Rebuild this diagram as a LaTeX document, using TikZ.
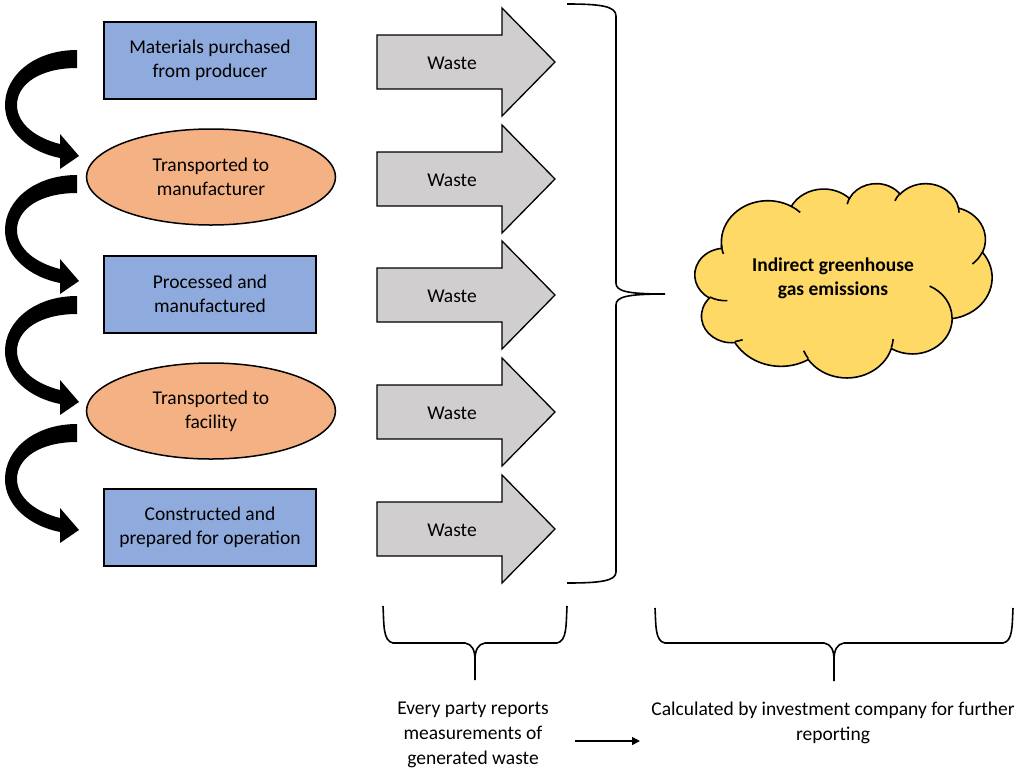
\documentclass[tikz,border=0pt]{standalone}
\usepackage{fontspec}
\setmainfont{Carlito}
\usetikzlibrary{shapes.geometric,arrows.meta}

\definecolor{stepblue}{HTML}{8FAADC}
\definecolor{transorange}{HTML}{F4B183}
\definecolor{wastegray}{HTML}{D0CECE}
\definecolor{cloudyellow}{HTML}{FFD966}

% Cloud outline built from elliptic arcs given with "visual" angles;
% each is converted once into TikZ's parametric angles and stored as a style.
\newcommand\cloudarcdef[5]{%
  \pgfmathsetmacro\cpa{atan2(sin(#4)/#3, cos(#4)/#2)}%
  \pgfmathsetmacro\cpb{atan2(sin(#4+#5)/#3, cos(#4+#5)/#2)}%
  \pgfmathsetmacro\cpb{\cpb+360*(\cpb<\cpa)}%
  \edef\cpdo{\noexpand\tikzset{#1/.style={start angle=\cpa, end angle=\cpb, x radius=#2, y radius=#3}}}%
  \cpdo}
% outline
\cloudarcdef{cla}{67.53}{91.90}{-190.4875}{123.7805}
\cloudarcdef{clb}{53.33}{72.67}{-144.1024}{89.9452}
\cloudarcdef{clc}{43.65}{59.45}{-145.8079}{99.7230}
\cloudarcdef{cld}{48.57}{65.95}{-130.9861}{117.2417}
\cloudarcdef{cle}{53.33}{72.73}{-78.7089}{109.0269}
\cloudarcdef{clf}{67.75}{92.20}{-46.2673}{130.2690}
\cloudarcdef{clg}{57.85}{78.67}{0.6250}{114.0333}
\cloudarcdef{clh}{67.52}{92.15}{22.4516}{115.1726}
\cloudarcdef{cli}{77.20}{105.43}{66.2426}{75.7110}
\cloudarcdef{clj}{43.60}{59.18}{-274.9421}{146.7356}
\cloudarcdef{clk}{43.45}{59.45}{-246.8285}{152.5189}
% inner puff lines
\cloudarcdef{cia}{43.45}{59.45}{86.7420}{26.4295}
\cloudarcdef{cib}{43.60}{59.18}{73.6105}{11.4475}
\cloudarcdef{cic}{67.52}{92.15}{137.6242}{14.0811}
\cloudarcdef{cid}{67.52}{92.15}{6.4533}{15.9984}
\cloudarcdef{cie}{57.85}{78.67}{-70.2924}{70.9174}
\cloudarcdef{cif}{53.33}{72.73}{30.3180}{27.7515}
\cloudarcdef{cig}{48.57}{65.95}{-13.7443}{14.8571}
\cloudarcdef{cih}{48.57}{65.95}{-149.1815}{18.1839}
\cloudarcdef{cii}{43.65}{59.45}{-163.4943}{17.6931}
\cloudarcdef{cij}{67.53}{91.90}{-66.7070}{12.3194}
\cloudarcdef{cik}{67.53}{91.90}{155.6472}{16.8105}

\tikzset{
  txt/.style={font=\fontsize{19.5}{24}\selectfont, text=black, align=center, inner sep=0},
  stepbox/.style={txt, draw, line width=2, fill=stepblue, minimum width=212, minimum height=77},
  transell/.style={txt, ellipse, draw, line width=1.5, fill=transorange, minimum width=249, minimum height=96},
  wastebody/.style={draw, line width=1.3, fill=wastegray, line join=miter},
  brace/.style={draw, line width=1.6},
  bendarrow/.pic={
    \fill (77,0) .. controls (35,0) and (5,25) .. (5,55)
      .. controls (5,82) and (30,102) .. (60,108)
      -- (60,119) -- (79,106) -- (60,84) -- (60,94)
      .. controls (36,88) and (17,74) .. (17,55)
      .. controls (17,34) and (40,18) .. (77,18) -- cycle;
  },
  wastearrow/.pic={
    \draw[wastebody] (0,-27) -- (125,-27) -- (125,-54) -- (178,0)
      -- (125,54) -- (125,27) -- (0,27) -- cycle;
  },
}

\begin{document}
\begin{tikzpicture}[x=1pt, y=-1pt]
\useasboundingbox (0,0) rectangle (1022,769);

% life-cycle stages
\node[stepbox] (s1) at (210,60.5) {Materials purchased\\from producer};
\node[transell] (s2) at (211,177) {Transported to\\manufacturer};
\node[stepbox] (s3) at (210,294) {Processed and\\manufactured};
\node[transell] (s4) at (211,411) {Transported to\\facility};
\node[stepbox] (s5) at (210,527) {Constructed and\\prepared for operation};

% curved block arrows between stages
\pic at (0,50) {bendarrow};
\pic at (0,175) {bendarrow};
\pic at (0,296) {bendarrow};
\pic at (0,424) {bendarrow};

% waste arrows
\foreach \y [count=\i] in {62,179,295,412,529} {
  \pic at (377,\y) {wastearrow};
  \node[txt] (w\i) at (452,\y+1) {Waste};
}

% brace collecting all waste
\draw[brace] (567,4) .. controls (600,4) and (616,6) .. (616,16)
  -- (616,283) .. controls (616,291) and (626,294) .. (665,294)
  .. controls (626,294) and (616,297) .. (616,305)
  -- (616,572) .. controls (616,581) and (600,583) .. (567,583);

% emissions cloud
\begin{scope}[shift={(695,183)}, x=0.6875pt, y=-0.44907pt, line width=1.6]
  \filldraw[fill=cloudyellow] (39.00,143.70) arc[cla] arc[clb] arc[clc] arc[cld]
    arc[cle] arc[clf] arc[clg] arc[clh] arc[cli] arc[clj] arc[clk] -- cycle;
  \draw (46.93,261.77) arc[cia]
        (69.28,348.99) arc[cib]
        (164.78,390.90) arc[cic]
        (288.27,347.51) arc[cid]
        (341.29,229.54) arc[cie]
        (417.98,153.54) arc[cif]
        (383.24,54.26) arc[cig]
        (290.78,39.52) arc[cih]
        (221.41,47.20) arc[cii]
        (140.00,51.92) arc[cij]
        (41.27,157.89) arc[cik];
\end{scope}
\node[txt, font=\fontsize{19.5}{24}\selectfont\bfseries] (ghg) at (833,278) {Indirect greenhouse\\gas emissions};

% lower braces
\draw[brace] (383,606) .. controls (384,625) and (383,641) .. (393,643)
  -- (465,643) .. controls (472,644) and (475,650) .. (475,660) -- (475,680);
\draw[brace] (567,606) .. controls (566,625) and (567,641) .. (557,643)
  -- (485,643) .. controls (478,644) and (475,650) .. (475,660);
\draw[brace] (655,608) .. controls (656,626) and (655,641) .. (665,643)
  -- (824,643) .. controls (831,644) and (834,650) .. (834,660) -- (834,681);
\draw[brace] (1013,608) .. controls (1012,626) and (1013,641) .. (1003,643)
  -- (844,643) .. controls (837,644) and (834,650) .. (834,660);

% bottom notes
\node[txt, font=\fontsize{19.5}{25}\selectfont] (party) at (473,735) {Every party reports\\measurements of\\generated waste};
\node[txt, font=\fontsize{19.5}{25}\selectfont] (company) at (833,722.5) {Calculated by investment company for further\\reporting};
\coordinate (from) at (575,741);
\coordinate (to) at (640,741);
\draw[line width=1.5, -{Triangle[length=8,width=8]}] (from) -- (to);
\end{tikzpicture}
\end{document}
